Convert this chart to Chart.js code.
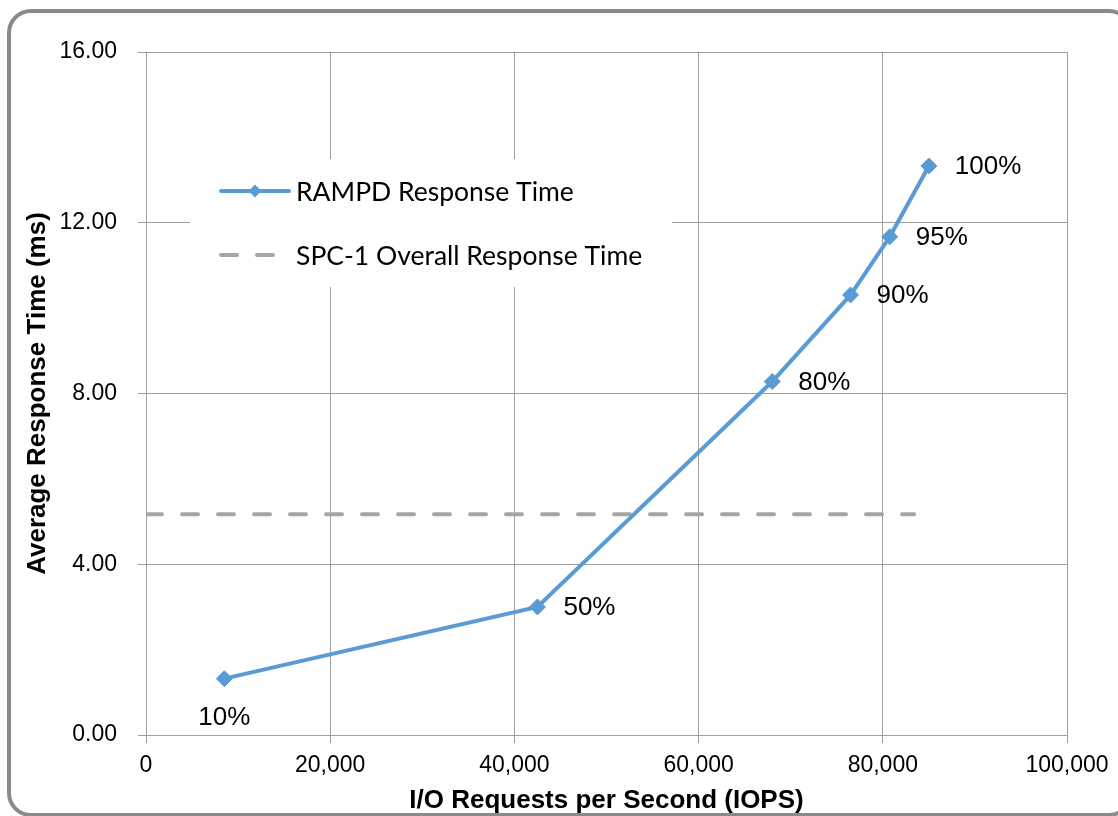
<!DOCTYPE html>
<html>
<head>
<meta charset="utf-8">
<title>RAMPD Response Time</title>
<script src="https://cdn.jsdelivr.net/npm/chart.js@4/dist/chart.umd.min.js"></script>
<style>
  body { margin: 0; background: #fff; }
  #wrap { position: relative; width: 1118px; height: 816px; overflow: hidden; }
  #frame { position: absolute; left: 7px; top: 9px; width: 1118px; height: 800px; border: 4px solid #8a8a8a; border-radius: 24px; }
  #rampd { position: absolute; left: 0; top: 0; }
</style>
</head>
<body>
<div id="wrap">
  <div id="frame"></div>
  <canvas id="rampd" width="1118" height="816"></canvas>
</div>
<script>
// data
var loadLevels = ['10%', '50%', '80%', '90%', '95%', '100%'];
var iops = [8500, 42500, 68000, 76500, 80750, 85000];
var responseTime = [1.32, 3.00, 8.28, 10.31, 11.67, 13.33];
var overallIops = [0, 83400];
var overallResponse = [5.17, 5.17];
var labelSide = ['below', 'right', 'right', 'right', 'right', 'right'];
var xTicks = [0, 20000, 40000, 60000, 80000, 100000];
var yTicks = [0, 4, 8, 12, 16];

var blue = '#5b9bd5';
var grey = '#a5a5a5';
var gridColor = '#9f9f9f';
var arial = '"Liberation Sans", Arial, sans-serif';

// percent labels next to each point
var pointLabels = {
  id: 'pointLabels',
  afterDatasetsDraw: function (chart) {
    var ctx = chart.ctx;
    var meta = chart.getDatasetMeta(0);
    ctx.save();
    ctx.font = '26px ' + arial;
    ctx.fillStyle = '#000';
    ctx.textBaseline = 'middle';
    meta.data.forEach(function (pt, i) {
      if (labelSide[i] === 'below') {
        ctx.textAlign = 'center';
        ctx.fillText(loadLevels[i], pt.x, pt.y + 39);
      } else {
        ctx.textAlign = 'left';
        ctx.fillText(loadLevels[i], pt.x + 26, pt.y + 1);
      }
    });
    ctx.restore();
  }
};

// legend sits inside the plot, on a white box
var insideLegend = {
  id: 'insideLegend',
  afterDatasetsDraw: function (chart) {
    var ctx = chart.ctx;
    var a = chart.chartArea;
    var bx = a.left + 44, by = a.top + 107;
    var sx = bx + 29, ex = sx + 72;
    ctx.save();
    ctx.fillStyle = '#fff';
    ctx.fillRect(bx, by, 482, 128);

    chart.data.datasets.forEach(function (ds, i) {
      var y = by + 32 + i * 64;
      ctx.strokeStyle = ds.borderColor;
      ctx.lineWidth = 4;
      ctx.lineCap = 'round';
      ctx.setLineDash(ds.borderDash ? [16, 20] : []);
      ctx.beginPath();
      ctx.moveTo(sx + 2, y);
      ctx.lineTo(ex - 2, y);
      ctx.stroke();
      ctx.setLineDash([]);
      if (ds.pointRadius) {
        var cx = (sx + ex) / 2, r = 6.5;
        ctx.fillStyle = ds.borderColor;
        ctx.beginPath();
        ctx.moveTo(cx - r, y);
        ctx.lineTo(cx, y - r);
        ctx.lineTo(cx + r, y);
        ctx.lineTo(cx, y + r);
        ctx.closePath();
        ctx.fill();
      }
      ctx.fillStyle = '#000';
      ctx.font = '26.5px Lato, "Open Sans", sans-serif';
      ctx.textAlign = 'left';
      ctx.textBaseline = 'middle';
      ctx.fillText(ds.label, ex + 5, y + 1);
    });
    ctx.restore();
  }
};

var chart = new Chart(document.getElementById('rampd'), {
  type: 'scatter',
  data: {
    datasets: [{
      label: 'RAMPD Response Time',
      data: iops.map(function (v, i) { return {x: v, y: responseTime[i]}; }),
      showLine: true,
      borderColor: blue,
      backgroundColor: blue,
      borderWidth: 4,
      pointStyle: 'rectRot',
      pointRadius: 8,
      pointBorderWidth: 1,
      pointBackgroundColor: blue,
      pointBorderColor: blue,
      tension: 0
    }, {
      label: 'SPC-1 Overall Response Time',
      data: overallIops.map(function (v, i) { return {x: v, y: overallResponse[i]}; }),
      showLine: true,
      borderColor: grey,
      backgroundColor: grey,
      borderWidth: 4,
      borderDash: [16, 20],
      borderCapStyle: 'round',
      pointRadius: 0,
      pointHoverRadius: 0
    }]
  },
  options: {
    responsive: false,
    animation: false,
    devicePixelRatio: 1,
    layout: { padding: { left: 0, top: 52, right: 51, bottom: 0 } },
    plugins: {
      legend: { display: false },
      tooltip: { enabled: false }
    },
    scales: {
      x: {
        type: 'linear',
        min: 0,
        max: 100000,
        afterFit: function (s) { s.height = 81; },
        afterBuildTicks: function (s) { s.ticks = xTicks.map(function (v) { return {value: v}; }); },
        grid: { color: gridColor, lineWidth: 1, tickLength: 8, tickColor: gridColor },
        border: { color: gridColor, width: 1 },
        ticks: {
          padding: 9,
          color: '#000',
          font: { family: arial, size: 23 },
          maxRotation: 0,
          callback: function (v) { return v.toLocaleString('en-US'); }
        },
        title: {
          display: true,
          text: 'I/O Requests per Second (IOPS)',
          color: '#000',
          font: { family: arial, size: 26, weight: 'bold' },
          padding: { top: 0, bottom: 0 }
        }
      },
      y: {
        type: 'linear',
        min: 0,
        max: 16,
        afterFit: function (s) { s.width = 146; },
        afterBuildTicks: function (s) { s.ticks = yTicks.map(function (v) { return {value: v}; }); },
        grid: { color: gridColor, lineWidth: 1, tickLength: 8, tickColor: gridColor },
        border: { color: gridColor, width: 1 },
        ticks: {
          padding: 21,
          color: '#000',
          font: { family: arial, size: 23 },
          callback: function (v) { return v.toFixed(2); }
        },
        title: {
          display: true,
          text: 'Average Response Time (ms)',
          color: '#000',
          font: { family: arial, size: 26, weight: 'bold' },
          padding: { top: 22, bottom: 0 }
        }
      }
    }
  },
  plugins: [pointLabels, insideLegend]
});
</script>
</body>
</html>
